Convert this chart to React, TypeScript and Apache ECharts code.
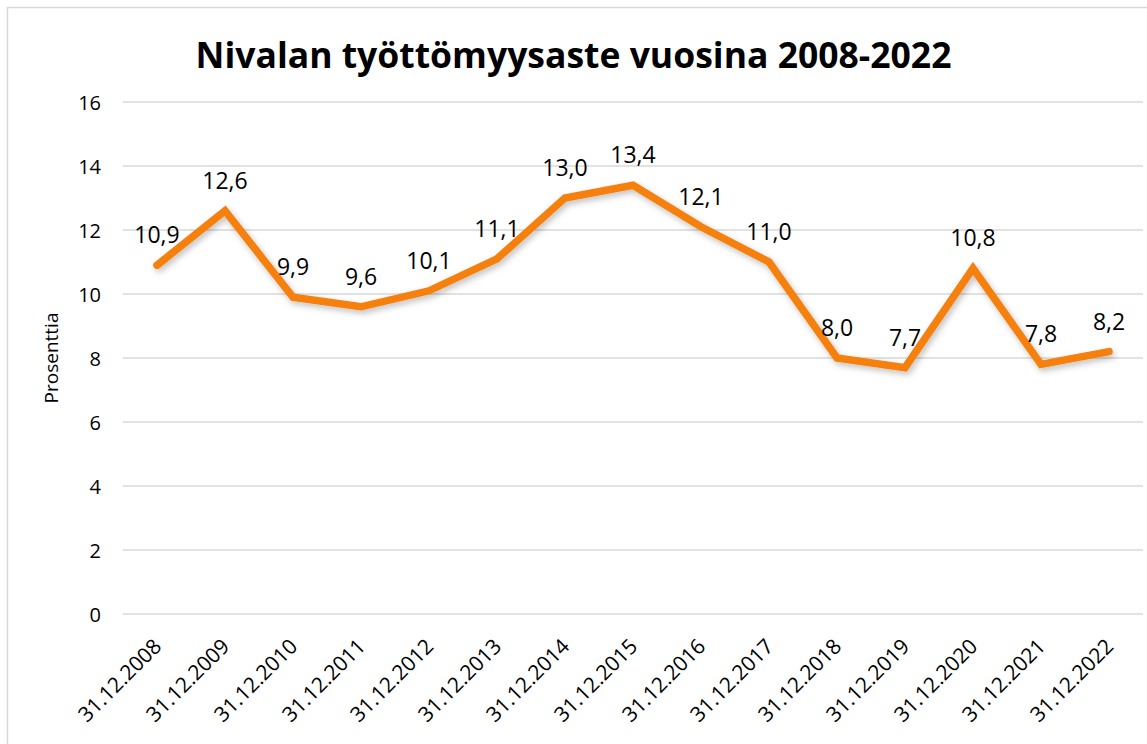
import React, { useEffect, useRef } from "react";
import * as echarts from "echarts";

const categories = [
  "31.12.2008", "31.12.2009", "31.12.2010", "31.12.2011", "31.12.2012",
  "31.12.2013", "31.12.2014", "31.12.2015", "31.12.2016", "31.12.2017",
  "31.12.2018", "31.12.2019", "31.12.2020", "31.12.2021", "31.12.2022",
];
const unemployment = [10.9, 12.6, 9.9, 9.6, 10.1, 11.1, 13.0, 13.4, 12.1, 11.0, 8.0, 7.7, 10.8, 7.8, 8.2];
const titleText = "Nivalan työttömyysaste vuosina 2008-2022";
const yAxisName = "Prosenttia";

const FONT = "'Open Sans', 'Noto Sans', sans-serif";

export default function App() {
  const ref = useRef<HTMLDivElement>(null);
  useEffect(() => {
    if (!ref.current) return;
    const chart = echarts.init(ref.current, null, { renderer: "svg" });
    chart.setOption({
      animation: false,
      backgroundColor: "#ffffff",
      title: {
        text: titleText,
        left: "center",
        top: 31,
        textStyle: { fontFamily: FONT, fontSize: 35.5, fontWeight: "bold", color: "#000" },
      },
      graphic: [
        {
          type: "rect",
          shape: { x: 7.5, y: 7.5, width: 1160, height: 760 },
          style: { fill: "none", stroke: "#d9d9d9", lineWidth: 1.5 },
          silent: true,
          z: -1,
        },
      ],
      grid: { left: 123, right: 4, top: 102, bottom: 130, containLabel: false },
      xAxis: {
        type: "category",
        data: categories,
        boundaryGap: true,
        axisLine: { show: false },
        axisTick: { show: false },
        axisLabel: {
          rotate: 45,
          interval: 0,
          margin: 28,
          fontFamily: FONT,
          fontSize: 21,
          color: "#000",
        },
      },
      yAxis: {
        type: "value",
        min: 0,
        max: 16,
        interval: 2,
        name: yAxisName,
        nameLocation: "middle",
        nameGap: 63,
        nameTextStyle: { fontFamily: FONT, fontSize: 19, color: "#000" },
        axisLine: { show: false },
        axisTick: { show: false },
        axisLabel: { margin: 22, fontFamily: FONT, fontSize: 20, color: "#000" },
        splitLine: { lineStyle: { color: "#d9d9d9", width: 1.5 } },
      },
      series: [
        {
          type: "line",
          data: unemployment,
          symbol: "circle",
          symbolSize: 1,
          showSymbol: true,
          itemStyle: { color: "rgba(0,0,0,0)" },
          lineStyle: {
            color: "#F5800F",
            width: 7.5,
            cap: "round",
            join: "miter",
            shadowColor: "rgba(0,0,0,0.25)",
            shadowBlur: 6,
            shadowOffsetX: 2,
            shadowOffsetY: 3,
          },
          label: {
            show: true,
            position: "top",
            distance: 19,
            fontFamily: FONT,
            fontSize: 23,
            color: "#000",
            formatter: (p: any) => Number(p.value).toFixed(1).replace(".", ","),
          },
        },
      ],
    });
    return () => chart.dispose();
  }, []);
  return (
    <div
      ref={ref}
      style={{ position: "fixed", left: 0, top: 0, width: 1147, height: 744 }}
    />
  );
}
